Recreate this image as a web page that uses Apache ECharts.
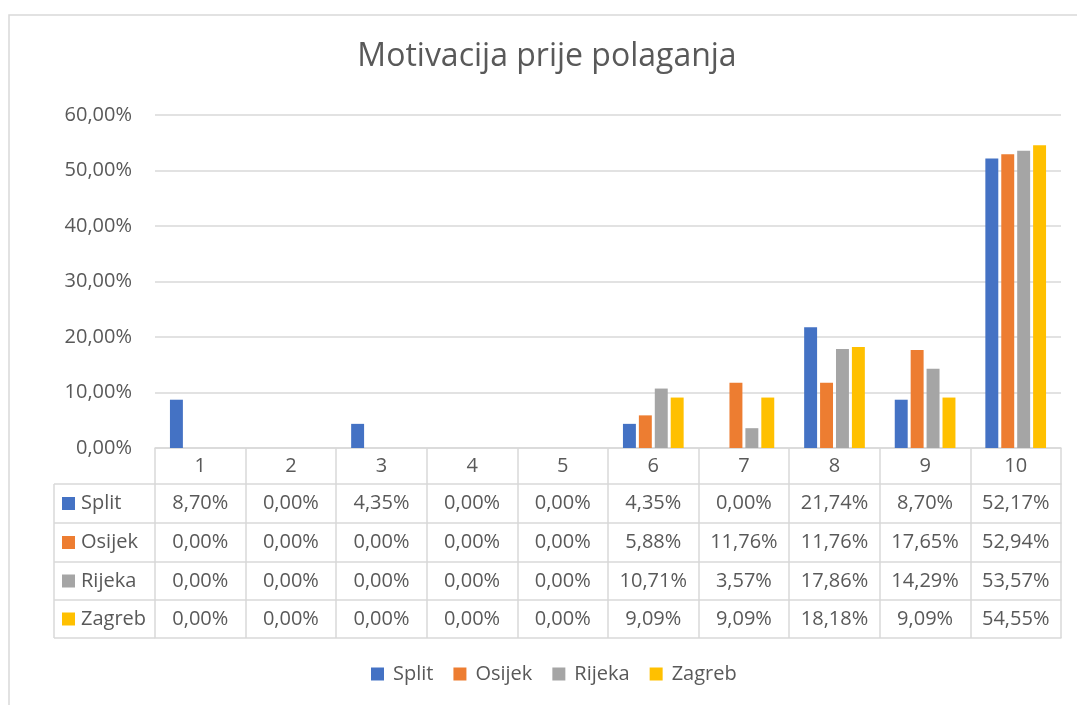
<!DOCTYPE html>
<html>
<head>
<meta charset="utf-8">
<script src="https://cdn.jsdelivr.net/npm/echarts@6/dist/echarts.min.js"></script>
<style>
  html, body { margin: 0; padding: 0; background: #fff; }
  #chart { width: 1077px; height: 705px; }
</style>
</head>
<body>
<div id="chart"></div>
<script>
// podaci (postoci)
const categories = ['1', '2', '3', '4', '5', '6', '7', '8', '9', '10'];
const cities = ['Split', 'Osijek', 'Rijeka', 'Zagreb'];
const split  = [8.70, 0, 4.35, 0, 0, 4.35, 0, 21.74, 8.70, 52.17];
const osijek = [0, 0, 0, 0, 0, 5.88, 11.76, 11.76, 17.65, 52.94];
const rijeka = [0, 0, 0, 0, 0, 10.71, 3.57, 17.86, 14.29, 53.57];
const zagreb = [0, 0, 0, 0, 0, 9.09, 9.09, 18.18, 9.09, 54.55];
const yTicks = [0, 10, 20, 30, 40, 50, 60];

const rows = [split, osijek, rijeka, zagreb];
const colors = ['#4472C4', '#ED7D31', '#A5A5A5', '#FFC000'];
const textColor = '#595959';
const lineColor = '#d9d9d9';
const font = '"Open Sans", sans-serif';
const fs = 20;

// layout tablice
const plotLeft = 155, plotRight = 16, axisY = 448;
const rowLines = [448, 484, 523, 562, 600, 638];
const tableLeft = 54;

function pct(v) {
    return v.toFixed(2).replace('.', ',') + '%';
}

let chart = echarts.init(document.getElementById('chart'));

// osi za tablicu podataka
const xAxes = [{
    type: 'category',
    data: categories,
    position: 'bottom',
    axisLine: {lineStyle: {color: lineColor, width: 1.5}},
    axisTick: {show: true, interval: 0, length: rowLines[5] - axisY, lineStyle: {color: lineColor, width: 1.5}},
    axisLabel: {
        color: textColor, fontFamily: font, fontSize: fs,
        verticalAlign: 'middle', margin: (rowLines[1] - rowLines[0]) / 2, interval: 0
    }
}];
rows.forEach(function (row, r) {
    xAxes.push({
        type: 'category',
        data: categories,
        position: 'bottom',
        offset: rowLines[r + 1] - axisY,
        axisLine: {lineStyle: {color: lineColor, width: 1.5}},
        axisTick: {show: false},
        axisLabel: {
            color: textColor, fontFamily: font, fontSize: fs, interval: 0,
            verticalAlign: 'middle', margin: (rowLines[r + 2] - rowLines[r + 1]) / 2,
            formatter: function (v, i) { return pct(row[i]); }
        }
    });
});
xAxes.push({
    type: 'category',
    data: categories,
    position: 'bottom',
    offset: rowLines[5] - axisY,
    axisLine: {lineStyle: {color: lineColor, width: 1.5}},
    axisTick: {show: false},
    axisLabel: {show: false}
});

// lijevi stupac tablice (legenda redova)
const graphics = [{
    type: 'rect',
    shape: {x: 9, y: 15, width: 1200, height: 800},
    style: {fill: 'none', stroke: lineColor, lineWidth: 1.5},
    silent: true
}, {
    type: 'line',
    shape: {x1: tableLeft, y1: rowLines[1], x2: tableLeft, y2: rowLines[5]},
    style: {stroke: lineColor, lineWidth: 1.5}
}];
for (let i = 1; i < rowLines.length; i++) {
    graphics.push({
        type: 'line',
        shape: {x1: tableLeft, y1: rowLines[i], x2: plotLeft, y2: rowLines[i]},
        style: {stroke: lineColor, lineWidth: 1.5}
    });
}
cities.forEach(function (name, r) {
    const mid = (rowLines[r + 1] + rowLines[r + 2]) / 2;
    graphics.push({
        type: 'rect',
        shape: {x: 62, y: mid - 6.5, width: 13, height: 13},
        style: {fill: colors[r]}
    });
    graphics.push({
        type: 'text',
        x: 81, y: mid,
        style: {text: name, fill: textColor, font: fs + 'px ' + font, verticalAlign: 'middle', align: 'left'}
    });
});

const option = {
    animation: false,
    title: {
        text: 'Motivacija prije polaganja',
        left: 547,
        textAlign: 'center',
        top: 41,
        padding: 0,
        textStyle: {color: textColor, fontFamily: font, fontSize: 32, fontWeight: 'normal'}
    },
    legend: {
        data: cities,
        bottom: 16,
        left: 366,
        icon: 'rect',
        itemWidth: 13,
        itemHeight: 13,
        itemGap: 20,
        textStyle: {color: textColor, fontFamily: font, fontSize: fs, padding: [0, 0, 0, 4]}
    },
    grid: {left: plotLeft, right: plotRight, top: 115, bottom: 705 - axisY},
    xAxis: xAxes,
    yAxis: {
        type: 'value',
        min: yTicks[0],
        max: yTicks[yTicks.length - 1],
        interval: yTicks[1] - yTicks[0],
        axisLine: {show: false},
        axisTick: {show: false},
        splitLine: {lineStyle: {color: lineColor, width: 1.5}},
        axisLabel: {
            color: textColor, fontFamily: font, fontSize: fs, margin: 23,
            formatter: function (v) { return pct(v); }
        }
    },
    graphic: graphics,
    series: rows.map(function (row, r) {
        return {
            name: cities[r],
            type: 'bar',
            data: row,
            xAxisIndex: 0,
            barGap: '23%',
            barCategoryGap: '33%',
            itemStyle: {color: colors[r]}
        };
    })
};

chart.setOption(option);
</script>
</body>
</html>
